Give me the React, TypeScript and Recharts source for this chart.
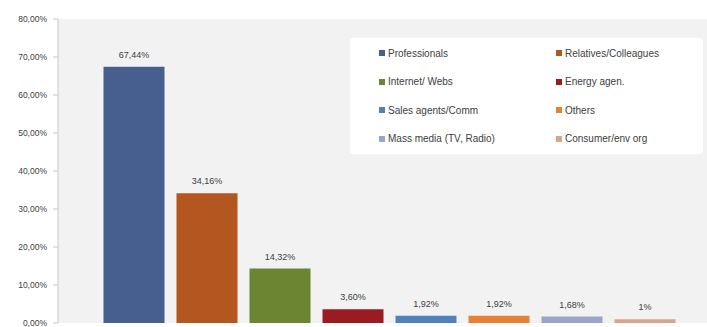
import React from 'react';
import { BarChart, Bar, XAxis, YAxis, CartesianGrid, LabelList, Cell } from 'recharts';

const sources = [
  'Professionals',
  'Relatives/Colleagues',
  'Internet/ Webs',
  'Energy agen.',
  'Sales agents/Comm',
  'Others',
  'Mass media (TV, Radio)',
  'Consumer/env org',
];
const shares = [67.44, 34.16, 14.32, 3.6, 1.92, 1.92, 1.68, 1];
const colors = ['#475f8f', '#b4561f', '#6b8533', '#9a1c22', '#4f81bd', '#e68135', '#9aa5c8', '#d9a58e'];
const yTicks = [0, 10, 20, 30, 40, 50, 60, 70, 80];

const data = sources.map((name, i) => ({ name, share: shares[i] }));

const FONT = '"Liberation Sans", Arial, sans-serif';

const fmtTick = (v: number) => v.toFixed(2).replace('.', ',') + '%';
const fmtLabel = (v: any) => {
  const n = Number(v);
  return Number.isInteger(n) ? `${n}%` : n.toFixed(2).replace('.', ',') + '%';
};

// legend box drawn by hand: two columns, read in row order
const LegendBox = () => (
  <div
    style={{
      position: 'absolute',
      left: 350,
      top: 38,
      background: '#ffffff',
      width: 353,
      height: 116,
      borderRadius: 3,
      fontFamily: FONT,
      fontSize: 10,
      color: '#404040',
    }}
  >
    {sources.map((s, i) => (
      <div
        key={s}
        style={{
          position: 'absolute',
          left: i % 2 === 0 ? 29 : 206,
          top: 8 + Math.floor(i / 2) * 28.5,
          height: 14,
          display: 'flex',
          alignItems: 'center',
          whiteSpace: 'nowrap',
        }}
      >
        <span style={{ width: 6, height: 6, background: colors[i], marginRight: 3, display: 'inline-block' }} />
        {s}
      </div>
    ))}
  </div>
);

export default function App() {
  return (
    <div style={{ position: 'absolute', left: 0, top: 0, width: 707, height: 327, background: '#fff' }}>
      <BarChart width={707} height={327} data={data} margin={{ top: 19, right: 0, bottom: 4, left: 0 }}>
        <CartesianGrid fill="#f2f2f2" horizontal={false} vertical={false} stroke="none" />
        <XAxis dataKey="name" hide padding={{ left: 39.5, right: 25.5 }} />
        <YAxis
          width={58}
          domain={[0, 80]}
          ticks={yTicks}
          interval={0}
          tickFormatter={fmtTick}
          tickSize={5}
          tickMargin={6}
          axisLine={{ stroke: '#c8c8c8' }}
          tickLine={{ stroke: '#c8c8c8' }}
          tick={{ fill: '#404040', fontFamily: FONT, fontSize: 8.5 }}
        />
        <Bar dataKey="share" barSize={61} isAnimationActive={false}>
          {data.map((d, i) => (
            <Cell key={d.name} fill={colors[i]} />
          ))}
          <LabelList
            dataKey="share"
            position="top"
            offset={9}
            formatter={fmtLabel}
            style={{ fill: '#404040', fontFamily: FONT, fontSize: 9 }}
          />
        </Bar>
      </BarChart>
      <LegendBox />
    </div>
  );
}
